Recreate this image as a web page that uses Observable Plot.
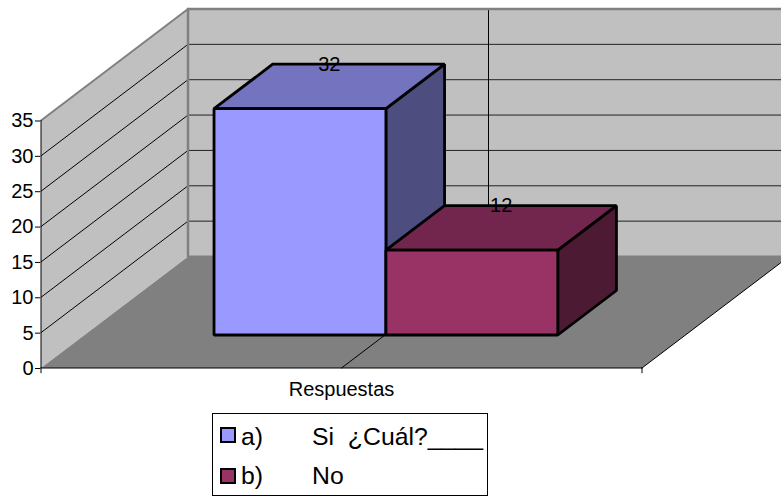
<!DOCTYPE html>
<html>
<head>
<meta charset="utf-8">
<script src="https://cdn.jsdelivr.net/npm/d3@7"></script>
<script src="https://cdn.jsdelivr.net/npm/@observablehq/plot@0.6"></script>
<style>
html,body{margin:0;padding:0;background:#fff;overflow:hidden}
#wrap{position:relative;width:781px;height:496px;font-family:"Liberation Sans",Arial,sans-serif;color:#000}
svg{display:block;position:absolute;left:0;top:0}
#legend{position:absolute;left:212px;top:413px;width:274px;height:81px;border:1px solid #000;font-size:24.8px;box-sizing:content-box}
.txt{position:absolute;white-space:pre;line-height:28px;height:28px}
.sw{position:absolute;left:7px;width:12px;height:12px;border:2px solid #000}
</style>
</head>
<body>
<div id="wrap"></div>
<script>
const categories = ["Respuestas"];
const seriesKeys = ["a)", "b)"];
const seriesNames = ["Si  ¿Cuál?____", "No"];
const seriesValues = [32, 12];
const frontColors = ["#9999FF", "#993366"];
const topColors = ["#7373BF", "#73264D"];
const sideColors = ["#4D4D80", "#4D1A33"];
const valueTicks = [0, 5, 10, 15, 20, 25, 30, 35];
const gridValues = [5, 10, 15, 20, 25, 30];

// oblique depth: fraction of the full floor depth, expressed in scale units
const maxValue = 35;
const depthX = 147 / 601;
const depthY = 111.5 / (247.5 / maxValue);
const P = (u, v, d) => [u + d * depthX, v + d * depthY];

const barU = [0.2155, 0.5015];
const barW = 0.286;
const barD = [0.296, 0.695];
const floorBack = 1.01;

const poly = (pts, fill, o = {}) =>
  Plot.line(pts, {x: p => p[0], y: p => p[1], fill, stroke: "none", curve: "linear-closed", ...o});
const seg = (a, b, stroke, strokeWidth) =>
  Plot.line([a, b], {x: p => p[0], y: p => p[1], stroke, strokeWidth});

const boxOpts = {stroke: "#000", strokeWidth: 2.8, strokeLinejoin: "miter"};
const bars = seriesValues.flatMap((v, i) => {
  const u0 = barU[i], u1 = u0 + barW, d0 = barD[0], d1 = barD[1];
  return [
    poly([P(u1, 0, d0), P(u1, 0, d1), P(u1, v, d1), P(u1, v, d0)], sideColors[i], boxOpts),
    poly([P(u0, v, d0), P(u1, v, d0), P(u1, v, d1), P(u0, v, d1)], topColors[i], boxOpts),
    poly([P(u0, 0, d0), P(u1, 0, d0), P(u1, v, d0), P(u0, v, d0)], frontColors[i], boxOpts)
  ];
});

const chart = Plot.plot({
  width: 781,
  height: 400,
  marginLeft: 40,
  marginTop: 0,
  marginRight: 0,
  marginBottom: 33,
  style: {background: "transparent", fontFamily: '"Liberation Sans", Arial, sans-serif', overflow: "hidden"},
  x: {domain: [0, 1], range: [40.5, 641.5]},
  y: {domain: [0, maxValue], range: [367.5, 120]},
  marks: [
    // walls
    poly([P(0, 0, 1), P(1, 0, 1), P(1, maxValue, 1), P(0, maxValue, 1)], "#C0C0C0"),
    poly([P(0, 0, 0), P(0, 0, 1), P(0, maxValue, 1), P(0, maxValue, 0)], "#C0C0C0"),
    // gridlines on both walls
    ...gridValues.flatMap(v => [
      seg(P(0, v, 0), P(0, v, 1), "#000", 1),
      seg(P(0, v, 1), P(1, v, 1), "#222", 1)
    ]),
    // category divider
    seg(P(0.5, 0, 1), P(0.5, maxValue, 1), "#000", 1),
    // wall outline
    seg(P(0, 0, 1), P(0, maxValue, 1), "#808080", 2.5),
    seg(P(0, maxValue, 1), P(1, maxValue, 1), "#808080", 2.5),
    seg(P(0, maxValue, 0), P(0, maxValue, 1), "#808080", 2),
    // floor
    poly([P(0, 0, 0), P(1, 0, 0), P(1, 0, floorBack), P(0, 0, floorBack)], "#808080"),
    seg(P(0.5, 0, 0), P(0.5, 0, 1), "#000", 1),
    // floor edges
    seg(P(1, 0, 0), P(1, 0, 1), "#000", 1),
    seg(P(0, 0, 0), P(1, 0, 0), "#000", 1.2),
    seg(P(0, 0, 0), P(0, maxValue, 0), "#000", 1),
    ...bars,
    // x ticks
    Plot.ruleX([0, 1], {y1: 0, y2: -0.8, stroke: "#000", strokeWidth: 1}),
    // data labels
    Plot.text(seriesValues, {
      x: (v, i) => P(barU[i] + barW / 2, v, (barD[0] + barD[1]) / 2)[0],
      y: (v, i) => P(0, v, barD[1])[1],
      text: v => String(v),
      fontSize: 20,
      fill: "#000"
    }),
    Plot.axisY({
      ticks: valueTicks,
      tickFormat: d3.format("d"),
      tickSize: 5,
      tickPadding: 2,
      fontSize: 20,
      label: null,
      stroke: "#000",
      color: "#000",
      dy: 0.5
    }),
    Plot.axisX({
      ticks: [0.5],
      tickFormat: () => categories[0],
      tickSize: 0,
      tickPadding: 14,
      anchor: "bottom",
      label: null,
      fontSize: 20,
      color: "#000"
    })
  ]
});
const wrap = document.getElementById("wrap");
wrap.appendChild(chart);

const legend = document.createElement("div");
legend.id = "legend";
seriesKeys.forEach((k, i) => {
  const sw = document.createElement("div");
  sw.className = "sw";
  sw.style.top = (13 + i * 41) + "px";
  sw.style.background = frontColors[i];
  const a = document.createElement("div");
  a.className = "txt"; a.style.left = "28px"; a.style.top = (9 + i * 39) + "px"; a.textContent = k;
  const b = document.createElement("div");
  b.className = "txt"; b.style.left = "99px"; b.style.top = (9 + i * 39) + "px"; b.textContent = seriesNames[i];
  legend.append(sw, a, b);
});
wrap.appendChild(legend);
</script>
</body>
</html>
